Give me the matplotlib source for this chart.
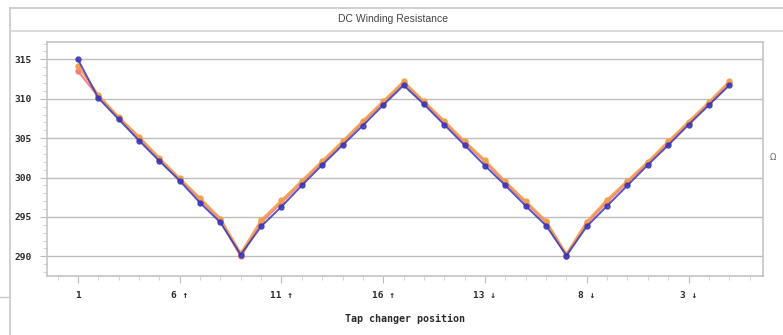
import numpy as np
import matplotlib.pyplot as plt
from matplotlib.lines import Line2D
from matplotlib.ticker import MultipleLocator

#------------------------------------------------------------------#
# data (resistance per tap position)
#------------------------------------------------------------------#
positions = ["1", "2", "3", "4", "5", "6 \u2191", "7", "8", "9", "10", "11 \u2191",
             "12", "13", "14", "15", "16 \u2191", "17", "16", "15", "14", "13 \u2193",
             "12", "11", "10", "9", "8 \u2193", "7", "6", "5", "4", "3 \u2193", "2", "1"]
phase_a = [315.0, 310.1, 307.4, 304.7, 302.1, 299.6, 296.8, 294.3, 290.2, 293.8, 296.3,
           299.0, 301.6, 304.1, 306.6, 309.2, 311.7, 309.3, 306.7, 304.1, 301.5, 299.0,
           296.4, 293.9, 290.1, 293.8, 296.4, 299.0, 301.6, 304.1, 306.7, 309.2, 311.7]
phase_b = [314.2, 310.5, 307.7, 305.2, 302.5, 299.9, 297.4, 294.8, 290.4, 294.6, 297.1,
           299.6, 302.1, 304.6, 307.2, 309.7, 312.2, 309.7, 307.2, 304.6, 302.2, 299.5,
           297.0, 294.5, 290.3, 294.4, 297.2, 299.6, 302.0, 304.6, 307.1, 309.6, 312.2]
phase_c = [313.5, 310.3, 307.6, 305.0, 302.3, 299.8, 297.2, 294.6, 290.0, 294.3, 296.8,
           299.4, 301.9, 304.4, 307.0, 309.5, 312.0, 309.5, 307.0, 304.4, 302.0, 299.3,
           296.8, 294.3, 290.1, 294.2, 296.9, 299.4, 301.9, 304.4, 306.9, 309.4, 312.0]
idx = np.arange(len(positions))

fig = plt.figure(figsize=(7.83, 3.35), dpi=100)
ax = fig.add_axes([0.060, 0.176, 0.9145, 0.6986])

ax.plot(idx, phase_c, 'o-', color='#f27c7c', ms=3.6, lw=1.6, alpha=0.9, zorder=3)
ax.plot(idx, phase_b, 'o-', color='#f0a04b', ms=3.6, lw=1.6, alpha=0.9, zorder=4)
ax.plot(idx, phase_a, 'o-', color='#3b36b8', ms=3.6, lw=1.4, alpha=0.85, zorder=5)

ax.set_xlim(-1.52, 33.66)
ax.set_ylim(287.5, 317.2)
ax.set_xticks(idx[::5])
ax.set_xticklabels(positions[::5], family='DejaVu Sans Mono', fontsize=6.8,
                   fontweight='bold', color='#2a2a2a')
ax.xaxis.set_minor_locator(MultipleLocator(1))
ax.set_yticks([290, 295, 300, 305, 310, 315])
ax.yaxis.set_minor_locator(MultipleLocator(1))
for lab in ax.get_yticklabels():
    lab.set_family('DejaVu Sans Mono'); lab.set_fontsize(6.8)
    lab.set_fontweight('bold'); lab.set_color('#2a2a2a')
ax.tick_params(axis='both', which='major', length=5, color='#bbbbbb', pad=6)
ax.tick_params(axis='both', which='minor', length=3, color='#cccccc')
ax.grid(axis='y', color='#bdbdbd', lw=1.0)
for axis in ['top', 'bottom', 'left', 'right']:
    ax.spines[axis].set_color('#c4c4c4')
    ax.spines[axis].set_linewidth(1.2)
ax.set_xlabel("Tap changer position", family='DejaVu Sans Mono', fontsize=7.2,
              fontweight='bold', color='#2a2a2a', labelpad=10)

# outer frame and title band
fig.add_artist(Line2D([10/783, 10/783], [0, 1-8/335], color='#c8c8c8', lw=1.2))
fig.add_artist(Line2D([10/783, 1], [1-8/335, 1-8/335], color='#c8c8c8', lw=1.2))
fig.add_artist(Line2D([10/783, 1], [1-31/335, 1-31/335], color='#d4d4d4', lw=1.2))
fig.add_artist(Line2D([0, 10/783], [1-297/335, 1-297/335], color='#c8c8c8', lw=1.0))
fig.text(393/783, 1-19/335, "DC Winding Resistance", ha='center', va='center',
         fontsize=7.5, color='#444444', family='Liberation Sans')
fig.text(773/783, 1-157/335, "\u03a9", ha='center', va='center', fontsize=6, color='#666666')

plt.savefig('out.png', format='png')
